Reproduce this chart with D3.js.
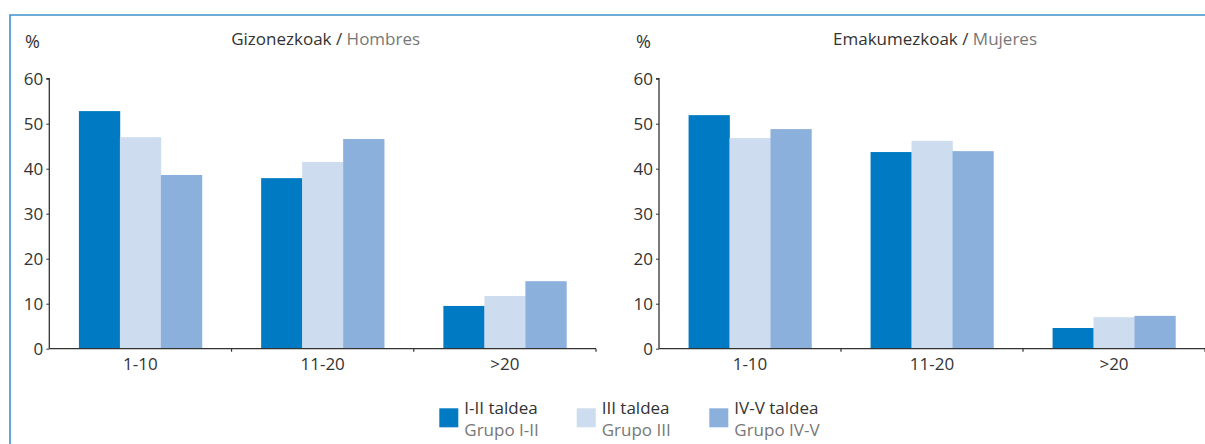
<!DOCTYPE html>
<html>
<head>
<meta charset="utf-8">
<script src="https://cdn.jsdelivr.net/npm/d3@7"></script>
<style>
  body { margin: 0; background: #fff; }
  svg { display: block; font-family: "Open Sans", "Noto Sans", sans-serif; }
</style>
</head>
<body>
<svg id="chart" width="1205" height="444"></svg>
<script>
const categories = ["1-10", "11-20", ">20"];
const groups = ["I-II taldea", "III taldea", "IV-V taldea"];
const groupsEs = ["Grupo I-II", "Grupo III", "Grupo IV-V"];
const colors = ["#007bc3", "#cddcee", "#8cb0dc"];
const yTicks = [0, 10, 20, 30, 40, 50, 60];

// values per category, per group
const hombres = [
  [52.8, 47.0, 38.6],
  [37.9, 41.5, 46.6],
  [9.5, 11.7, 15.0]
];
const mujeres = [
  [51.9, 46.8, 48.8],
  [43.7, 46.2, 43.9],
  [4.6, 7.0, 7.3]
];

const panels = [
  { titleEu: "Gizonezkoak / ", titleEs: "Hombres", data: hombres, x0: 49.3, x1: 596, pctX: 25 },
  { titleEu: "Emakumezkoak / ", titleEs: "Mujeres", data: mujeres, x0: 659, x1: 1205, pctX: 636 }
];

const svg = d3.select("#chart");
svg.append("rect").attr("width", 1205).attr("height", 444).attr("fill", "#fff");

// frame
svg.append("path")
  .attr("d", "M10,444V15H1205")
  .attr("fill", "none")
  .attr("stroke", "#3b91d0")
  .attr("stroke-width", 1.6);

const y = d3.scaleLinear().domain([0, 60]).range([348.7, 78.7]);

panels.forEach(p => {
  const g = svg.append("g");
  const x = d3.scaleBand().domain(categories).range([p.x0, p.x1]).paddingInner(0.325).paddingOuter(0.1625);
  const xb = d3.scaleBand().domain(d3.range(groups.length)).range([0, x.bandwidth()]);

  // bars
  categories.forEach((c, ci) => {
    p.data[ci].forEach((v, gi) => {
      g.append("rect")
        .attr("x", x(c) + xb(gi))
        .attr("y", y(v))
        .attr("width", xb.bandwidth() + 0.3)
        .attr("height", y(0) - y(v))
        .attr("fill", colors[gi]);
    });
  });

  // y axis
  const ya = g.append("g").attr("transform", `translate(${p.x0},0)`)
    .call(d3.axisLeft(y).tickValues(yTicks).tickSize(3).tickPadding(3).tickFormat(d3.format("d")));
  ya.select(".domain").attr("stroke", "#333").attr("stroke-width", 1.3).attr("d", `M-3,${y(60)}H0V${y(0)}`);
  ya.selectAll(".tick line").attr("stroke", "#333");
  ya.selectAll(".tick text").attr("fill", "#333").attr("font-size", 17).attr("font-family", "Open Sans");

  // x axis
  const xa = g.append("g").attr("transform", `translate(0,${y(0)})`);
  xa.append("line").attr("x1", p.x0).attr("x2", p.x1).attr("stroke", "#333").attr("stroke-width", 1.3);
  const step = x.step();
  const bounds = categories.map((c, i) => p.x0 + step * (i + 1));
  xa.selectAll("line.tk").data(bounds).join("line").attr("class", "tk")
    .attr("x1", d => d).attr("x2", d => d).attr("y1", 0).attr("y2", 3)
    .attr("stroke", "#333").attr("stroke-width", 1.2);
  xa.selectAll("text").data(categories).join("text")
    .attr("x", d => x(d) + x.bandwidth() / 2)
    .attr("y", 21)
    .attr("text-anchor", "middle")
    .attr("font-size", 17)
    .attr("fill", "#333")
    .text(d => d);

  // % label
  g.append("text").attr("x", p.pctX).attr("y", 48).attr("font-size", 18).attr("fill", "#333").text("%");

  // title
  const t = g.append("text")
    .attr("x", (p.x0 + p.x1) / 2 + 3)
    .attr("y", 45)
    .attr("text-anchor", "middle")
    .attr("font-size", 17);
  t.append("tspan").attr("fill", "#333").text(p.titleEu);
  t.append("tspan").attr("fill", "#777").text(p.titleEs);
});

// legend
const legendX = [439.3, 576.7, 709.3];
const lg = svg.append("g");
groups.forEach((name, i) => {
  lg.append("rect").attr("x", legendX[i]).attr("y", 408.3).attr("width", 19).attr("height", 19).attr("fill", colors[i]);
  lg.append("text").attr("x", legendX[i] + 25).attr("y", 414).attr("font-size", 17).attr("fill", "#333").text(name);
  lg.append("text").attr("x", legendX[i] + 25).attr("y", 435.5).attr("font-size", 17).attr("fill", "#777").text(groupsEs[i]);
});
</script>
</body>
</html>
